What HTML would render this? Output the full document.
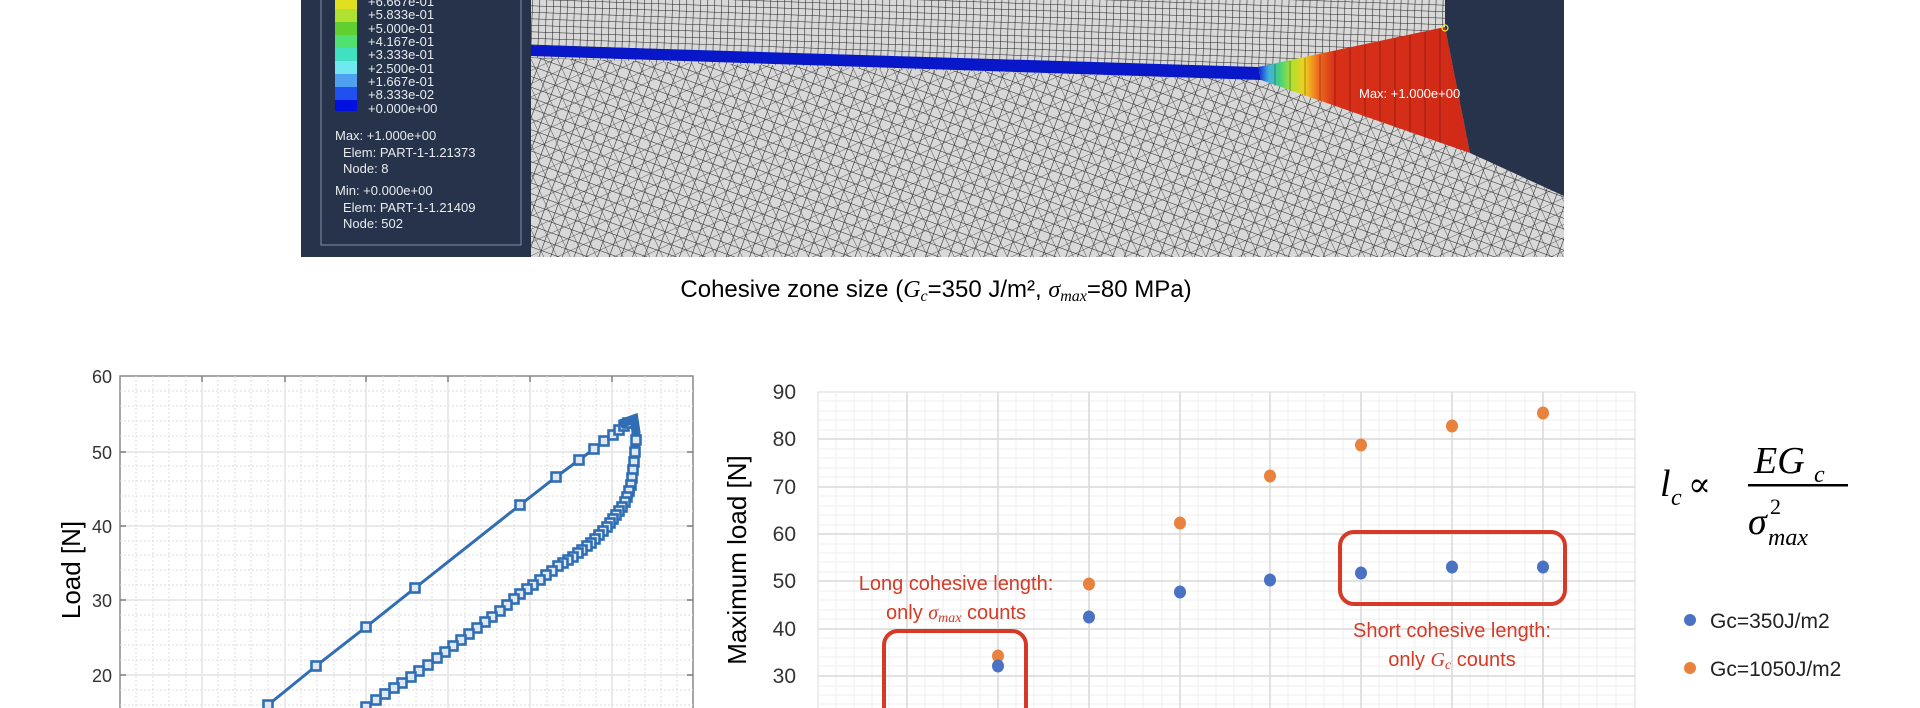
<!DOCTYPE html>
<html><head><meta charset="utf-8"><style>
html,body{margin:0;padding:0;background:#fff;width:1920px;height:708px;overflow:hidden}
svg{display:block}
.s{font-family:"Liberation Serif",serif;font-style:italic}
</style></head><body>
<svg width="1920" height="708" viewBox="0 0 1920 708" xmlns="http://www.w3.org/2000/svg" font-family="Liberation Sans, sans-serif">
<defs>
<pattern id="fine" width="7" height="6.5" patternUnits="userSpaceOnUse" patternTransform="rotate(2)">
<rect width="7" height="6.5" fill="#d8d8d8"/><path d="M0 0H7M0 0V6.5" stroke="#222" stroke-width="1.1"/></pattern>
<pattern id="coarse" width="11" height="10" patternUnits="userSpaceOnUse" patternTransform="rotate(20)">
<rect width="11" height="10" fill="#d8d8d8"/><path d="M0 0H11M0 0V10" stroke="#222" stroke-width="1.1"/></pattern>
<pattern id="coarse2" width="12" height="12" patternUnits="userSpaceOnUse" patternTransform="rotate(-25)">
<rect width="12" height="12" fill="none"/><path d="M0 0H12M0 0V12" stroke="#333" stroke-width="0.8"/></pattern>
<linearGradient id="czg" x1="0" x2="1" y1="0" y2="0">
<stop offset="0" stop-color="#1020d0"/><stop offset="0.05" stop-color="#40b0e0"/><stop offset="0.1" stop-color="#40d080"/><stop offset="0.16" stop-color="#b0e030"/><stop offset="0.22" stop-color="#f0d020"/><stop offset="0.28" stop-color="#f07020"/><stop offset="0.36" stop-color="#d83018"/><stop offset="1" stop-color="#d02a18"/></linearGradient>
<marker id="sq" markerWidth="12" markerHeight="12" refX="6" refY="6" markerUnits="userSpaceOnUse">
<rect x="1.5" y="1.5" width="9" height="9" fill="#dfe8f3" stroke="#2f6db5" stroke-width="2.6"/></marker>
</defs>

<!-- FEA panel -->
<rect x="301" y="0" width="230" height="257" fill="#26334a"/>
<rect x="321" y="-2" width="200" height="247" fill="none" stroke="#8090a8" stroke-width="1"/>
<g>
<rect x="335" y="-4" width="22" height="13" fill="#e0e020"/>
<rect x="335" y="9" width="22" height="13" fill="#b0e030"/>
<rect x="335" y="22" width="22" height="13" fill="#60d030"/>
<rect x="335" y="35" width="22" height="13" fill="#50e070"/>
<rect x="335" y="48" width="22" height="13" fill="#40e0c0"/>
<rect x="335" y="61" width="22" height="13" fill="#70e8f0"/>
<rect x="335" y="74" width="22" height="13" fill="#50a0f0"/>
<rect x="335" y="87" width="22" height="13" fill="#2050f0"/>
<rect x="335" y="100" width="22" height="11" fill="#0010e0"/>
</g>
<g fill="#e8ecf0" font-size="13">
<text x="368" y="6">+6.667e-01</text><text x="368" y="19">+5.833e-01</text><text x="368" y="33">+5.000e-01</text>
<text x="368" y="46">+4.167e-01</text><text x="368" y="59">+3.333e-01</text><text x="368" y="73">+2.500e-01</text>
<text x="368" y="86">+1.667e-01</text><text x="368" y="99">+8.333e-02</text><text x="368" y="113">+0.000e+00</text>
<text x="335" y="140">Max: +1.000e+00</text><text x="343" y="157">Elem: PART-1-1.21373</text><text x="343" y="173">Node: 8</text>
<text x="335" y="195">Min: +0.000e+00</text><text x="343" y="212">Elem: PART-1-1.21409</text><text x="343" y="228">Node: 502</text>
</g>
<!-- mesh -->
<rect x="531" y="0" width="1033" height="257" fill="url(#fine)"/>
<polygon points="531,58 1261,80 1470,153 1564,196 1564,257 531,257" fill="url(#coarse)"/>
<polygon points="531,58 1261,80 1470,153 1564,196 1564,257 531,257" fill="url(#coarse2)"/>
<polygon points="531,45 1258,67 1261,80 531,56" fill="#0818c8"/>
<polygon points="1258,67 1445,27 1470,153 1261,80" fill="url(#czg)"/>
<g stroke="#300" stroke-width="0.6" opacity="0.6">
<path d="M1275,64V86M1290,61V91M1305,58V96M1320,55V101M1335,51V106M1350,48V112M1365,45V117M1380,42V122M1395,38V128M1410,35V133M1425,32V138M1440,29V143"/></g>
<polygon points="1445,0 1564,0 1564,196 1470,153 1445,27" fill="#26334a"/>
<text x="1359" y="98" fill="#fff" font-size="13">Max: +1.000e+00</text>
<circle cx="1445" cy="28" r="3" fill="none" stroke="#ee3" stroke-width="1.2"/>
<text x="936" y="297" font-size="24" text-anchor="middle" fill="#000">Cohesive zone size (<tspan class="s">G</tspan><tspan class="s" font-size="16" dy="4">c</tspan><tspan dy="-4">=350 J/m², </tspan><tspan class="s">σ</tspan><tspan class="s" font-size="16" dy="4">max</tspan><tspan dy="-4">=80 MPa)</tspan></text>

<!-- left chart -->
<g>
<rect x="120" y="376" width="573" height="340" fill="#fff" stroke="#888" stroke-width="1.5"/>
<g stroke="#ddd" stroke-width="1" stroke-dasharray="2,2">
<path d="M136,376V708M153,376V708M169,376V708M186,376V708M218,376V708M235,376V708M251,376V708M268,376V708M301,376V708M317,376V708M334,376V708M350,376V708M383,376V708M399,376V708M416,376V708M432,376V708M465,376V708M481,376V708M497,376V708M514,376V708M547,376V708M563,376V708M580,376V708M596,376V708M629,376V708M645,376V708M661,376V708M677,376V708"/>
<path d="M120,391H693M120,406H693M120,421H693M120,436H693M120,466H693M120,481H693M120,496H693M120,511H693M120,541H693M120,555H693M120,570H693M120,585H693M120,615H693M120,630H693M120,645H693M120,660H693M120,690H693M120,705H693"/></g>
<g stroke="#e4e4e4" stroke-width="1.5">
<path d="M202,376V708M285,376V708M366,376V708M448,376V708M530,376V708M612,376V708"/>
<path d="M120,452H693M120,526H693M120,600H693M120,675H693"/></g>
<g stroke="#666" stroke-width="1.2"><path d="M120,452h6M120,526h6M120,600h6M120,675h6M693,452h-6M693,526h-6M693,600h-6M693,675h-6M202,376v6M285,376v6M366,376v6M448,376v6M530,376v6M612,376v6"/></g>
<g font-size="18" fill="#333" text-anchor="end">
<text x="112" y="383">60</text><text x="112" y="459">50</text><text x="112" y="533">40</text><text x="112" y="607">30</text><text x="112" y="682">20</text></g>
<text transform="translate(80,570) rotate(-90)" font-size="26" text-anchor="middle" fill="#000">Load [N]</text>
<polyline fill="none" stroke="#2f6db5" stroke-width="3" marker-mid="url(#sq)" marker-start="url(#sq)"
points="250,720 268,705 316,666 366,627 415,588 520,505 556,477 579,460 594,449 604,441 613,435 619,430 624,426 628,423 632,421"/>
<path d="M620,424 L634,419 L636,432 L634,470 L630,494 L620,510" fill="none" stroke="#2f6db5" stroke-width="9"/>
<polyline fill="none" stroke="#2f6db5" stroke-width="3" marker-mid="url(#sq)"
points="636,425 636,440 635,452 634,462 633,470 632,478 631,485 629,491 627,497 625,502 622,507 619,511 616,515 613,519 610,523 607,527 603,531 599,535 595,539 591,543 587,546 582,550 578,553 573,557 568,560 563,563 558,566 552,571 546,575 540,580 533,585 527,589 520,594 514,599 507,605 500,611 492,617 485,622 477,628 469,634 461,640 453,646 445,652 437,658 428,665 419,671 411,677 402,683 394,688 385,694 376,700 366,707 356,714"/>
</g>

<!-- right chart -->
<g>
<rect x="818" y="392" width="817" height="330" fill="#fff" stroke="#d8d8d8" stroke-width="1"/>
<g stroke="#efefef" stroke-width="1">
<path d="M836,392V708M854,392V708M872,392V708M889,392V708M925,392V708M943,392V708M961,392V708M980,392V708M1016,392V708M1034,392V708M1052,392V708M1071,392V708M1107,392V708M1125,392V708M1143,392V708M1162,392V708M1198,392V708M1216,392V708M1234,392V708M1252,392V708M1288,392V708M1306,392V708M1324,392V708M1343,392V708M1379,392V708M1397,392V708M1415,392V708M1434,392V708M1470,392V708M1488,392V708M1506,392V708M1525,392V708M1561,392V708M1579,392V708M1597,392V708M1616,392V708"/>
<path d="M818,401H1635M818,411H1635M818,420H1635M818,430H1635M818,449H1635M818,458H1635M818,468H1635M818,477H1635M818,496H1635M818,506H1635M818,515H1635M818,525H1635M818,544H1635M818,553H1635M818,562H1635M818,572H1635M818,591H1635M818,600H1635M818,610H1635M818,619H1635M818,638H1635M818,648H1635M818,657H1635M818,666H1635M818,686H1635M818,695H1635M818,704H1635"/></g>
<g stroke="#d9d9d9" stroke-width="1.5">
<path d="M907,392V708M998,392V708M1089,392V708M1180,392V708M1270,392V708M1361,392V708M1452,392V708M1543,392V708"/>
<path d="M818,439H1635M818,487H1635M818,534H1635M818,581H1635M818,629H1635M818,676H1635"/></g>
<g font-size="21" fill="#333" text-anchor="end">
<text x="796" y="399">90</text><text x="796" y="446">80</text><text x="796" y="494">70</text><text x="796" y="541">60</text><text x="796" y="588">50</text><text x="796" y="636">40</text><text x="796" y="683">30</text></g>
<text transform="translate(746,560) rotate(-90)" font-size="26" text-anchor="middle" fill="#000">Maximum load [N]</text>
<g fill="#e8823c">
<ellipse cx="998" cy="656" rx="6" ry="6.5"/><ellipse cx="1089" cy="584" rx="6" ry="6.5"/><ellipse cx="1180" cy="523" rx="6" ry="6.5"/><ellipse cx="1270" cy="476" rx="6" ry="6.5"/><ellipse cx="1361" cy="445" rx="6" ry="6.5"/><ellipse cx="1452" cy="426" rx="6" ry="6.5"/><ellipse cx="1543" cy="413" rx="6" ry="6.5"/></g>
<g fill="#4a72c4">
<ellipse cx="998" cy="666" rx="6" ry="6.5"/><ellipse cx="1089" cy="617" rx="6" ry="6.5"/><ellipse cx="1180" cy="592" rx="6" ry="6.5"/><ellipse cx="1270" cy="580" rx="6" ry="6.5"/><ellipse cx="1361" cy="573" rx="6" ry="6.5"/><ellipse cx="1452" cy="567" rx="6" ry="6.5"/><ellipse cx="1543" cy="567" rx="6" ry="6.5"/></g>
<rect x="884" y="631" width="142" height="110" rx="14" fill="none" stroke="#d63a26" stroke-width="4"/>
<rect x="1340" y="532" width="225" height="72" rx="14" fill="none" stroke="#d63a26" stroke-width="4"/>
<g fill="#d63a26" font-size="20" text-anchor="middle">
<text x="956" y="590">Long cohesive length:</text>
<text x="956" y="619">only <tspan class="s">σ</tspan><tspan class="s" font-size="14" dy="3">max</tspan><tspan dy="-3"> counts</tspan></text>
<text x="1452" y="637">Short cohesive length:</text>
<text x="1452" y="666">only <tspan class="s">G</tspan><tspan class="s" font-size="14" dy="3">c</tspan><tspan dy="-3"> counts</tspan></text>
</g>
</g>

<!-- formula -->
<g fill="#000">
<text class="s" x="1660" y="496" font-size="38">l</text><text class="s" x="1671" y="505" font-size="24">c</text>
<text x="1688" y="496" font-size="34" font-family="DejaVu Serif, serif">∝</text>
<text class="s" x="1754" y="473" font-size="38">EG</text><text class="s" x="1814" y="482" font-size="24">c</text>
<rect x="1748" y="484" width="100" height="2.5" fill="#000"/>
<text class="s" x="1748" y="534" font-size="38">σ</text><text x="1770" y="514" font-size="22" font-family="Liberation Serif, serif">2</text><text class="s" x="1768" y="545" font-size="24">max</text>
</g>
<circle cx="1690" cy="620" r="6" fill="#4a72c4"/>
<text x="1710" y="628" font-size="21" fill="#222">Gc=350J/m2</text>
<circle cx="1690" cy="668" r="6" fill="#e8823c"/>
<text x="1710" y="676" font-size="21" fill="#222">Gc=1050J/m2</text>
</svg>
</body></html>
